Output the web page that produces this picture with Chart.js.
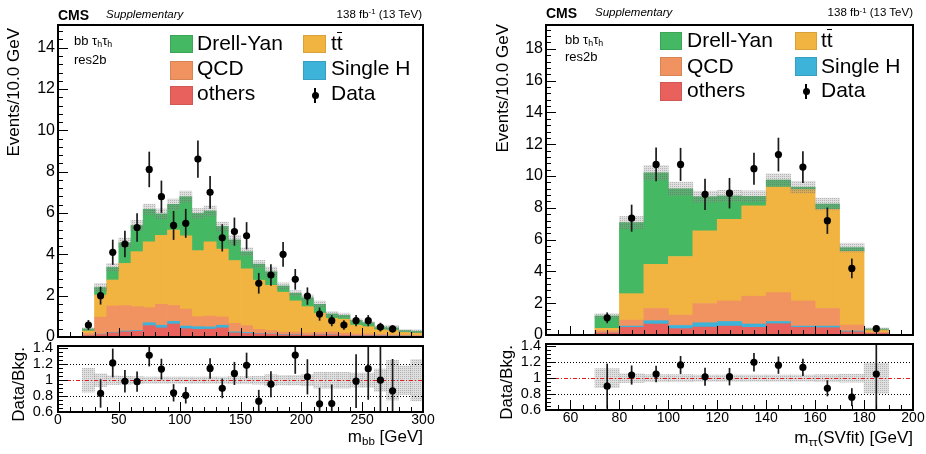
<!DOCTYPE html>
<html>
<head>
<meta charset="utf-8">
<script src="https://cdn.jsdelivr.net/npm/chart.js@4.4.1/dist/chart.umd.min.js"></script>
<style>
html,body{margin:0;padding:0;background:#fff;}
body{width:926px;height:454px;overflow:hidden;position:relative;font-family:"Liberation Sans",Arial,Helvetica,sans-serif;color:#000;}
canvas{position:absolute;left:0;top:0;}
.t{position:absolute;white-space:nowrap;line-height:1;}
.v{position:absolute;white-space:nowrap;line-height:1;writing-mode:vertical-rl;transform:rotate(180deg);}
.box{position:absolute;box-sizing:border-box;border:1px solid rgba(0,0,0,0.10);}
.sub{font-size:0.68em;position:relative;top:0.28em;}
.sup{font-size:0.68em;position:relative;top:-0.45em;}
.tb{position:relative;}
.tb i{position:absolute;left:0.5px;right:0.5px;top:0.04em;border-top:1.6px solid #000;}
.dot{position:absolute;width:7px;height:7px;border-radius:50%;background:#000;}
.bar{position:absolute;width:1.6px;background:#000;}
</style>
</head>
<body>
<canvas id="mainL" width="926" height="454"></canvas>
<canvas id="ratioL" width="926" height="454"></canvas>
<canvas id="mainR" width="926" height="454"></canvas>
<canvas id="ratioR" width="926" height="454"></canvas>

<!-- left panel texts -->
<div class="t" style="left:58px;top:7.5px;font-size:14px;font-weight:bold;">CMS</div>
<div class="t" style="left:106px;top:8.8px;font-size:11.5px;font-style:italic;">Supplementary</div>
<div class="t" style="right:504px;top:8.8px;font-size:11.5px;">138 fb<span class="sup">-1</span> (13 TeV)</div>
<div class="t" style="left:74px;top:34px;font-size:13px;">bb τ<span class="sub">h</span>τ<span class="sub">h</span></div>
<div class="t" style="left:74px;top:53px;font-size:13px;">res2b</div>

<div class="box" style="left:170px;top:35px;width:23px;height:18px;background:#45b863;"></div>
<div class="t" style="left:197px;top:32.2px;font-size:21px;">Drell-Yan</div>
<div class="box" style="left:303px;top:35px;width:23px;height:18px;background:#f2b440;"></div>
<div class="t" style="left:331px;top:32.2px;font-size:21px;">t<span class="tb">t<i></i></span></div>
<div class="box" style="left:170px;top:61px;width:23px;height:19px;background:#f09360;"></div>
<div class="t" style="left:197px;top:57.2px;font-size:21px;">QCD</div>
<div class="box" style="left:303px;top:61px;width:23px;height:19px;background:#3db3d9;"></div>
<div class="t" style="left:331px;top:57.2px;font-size:21px;">Single H</div>
<div class="box" style="left:170px;top:86px;width:23px;height:19px;background:#e9615c;"></div>
<div class="t" style="left:197px;top:82.2px;font-size:21px;">others</div>
<div class="bar" style="left:314.2px;top:88px;height:15px;"></div>
<div class="dot" style="left:311.5px;top:92px;"></div>
<div class="t" style="left:331px;top:82.2px;font-size:21px;">Data</div>

<div class="v" style="left:5px;top:28px;font-size:17px;">Events/10.0 GeV</div>
<div class="v" style="left:10px;top:347px;font-size:17px;">Data/Bkg.</div>
<div class="t" style="right:503px;top:427.6px;font-size:17px;">m<span class="sub">bb</span> [GeV]</div>

<!-- right panel texts -->
<div class="t" style="left:546px;top:5.5px;font-size:14px;font-weight:bold;">CMS</div>
<div class="t" style="left:595px;top:6.8px;font-size:11.5px;font-style:italic;">Supplementary</div>
<div class="t" style="right:13px;top:7.2px;font-size:11.5px;">138 fb<span class="sup">-1</span> (13 TeV)</div>
<div class="t" style="left:565px;top:33px;font-size:13px;">bb τ<span class="sub">h</span>τ<span class="sub">h</span></div>
<div class="t" style="left:565px;top:50px;font-size:13px;">res2b</div>

<div class="box" style="left:660px;top:32px;width:22px;height:18px;background:#45b863;"></div>
<div class="t" style="left:687px;top:29.2px;font-size:21px;">Drell-Yan</div>
<div class="box" style="left:795px;top:32px;width:22px;height:18px;background:#f2b440;"></div>
<div class="t" style="left:821px;top:29.2px;font-size:21px;">t<span class="tb">t<i></i></span></div>
<div class="box" style="left:660px;top:57px;width:22px;height:19px;background:#f09360;"></div>
<div class="t" style="left:687px;top:54.9px;font-size:21px;">QCD</div>
<div class="box" style="left:795px;top:57px;width:22px;height:19px;background:#3db3d9;"></div>
<div class="t" style="left:821px;top:54.9px;font-size:21px;">Single H</div>
<div class="box" style="left:660px;top:82px;width:22px;height:19px;background:#e9615c;"></div>
<div class="t" style="left:687px;top:78.9px;font-size:21px;">others</div>
<div class="bar" style="left:805.2px;top:84px;height:15px;"></div>
<div class="dot" style="left:802.5px;top:88px;"></div>
<div class="t" style="left:821px;top:78.9px;font-size:21px;">Data</div>

<div class="v" style="left:494px;top:24px;font-size:17px;">Events/10.0 GeV</div>
<div class="v" style="left:498px;top:345px;font-size:17px;">Data/Bkg.</div>
<div class="t" style="right:13px;top:428.6px;font-size:17px;">m<span class="sub">ττ</span>(SVfit) [GeV]</div>

<script>
// ===================== DATA: left panel (m_bb) =====================
const binsL = [5,15,25,35,45,55,65,75,85,95,105,115,125,135,145,155,165,175,185,195,205,215,225,235,245,255,265,275,285,295];
const othersL  = [0.03,0.03,0.07,0.12,0.20,0.25,0.28,0.55,0.44,0.63,0.40,0.37,0.38,0.44,0.20,0.17,0.15,0.13,0.10,0.10,0.08,0.10,0.10,0.07,0.06,0.06,0.05,0.04,0.04,0.03];
const singleHL = [0,0,0,0.02,0.02,0.04,0.04,0.14,0.13,0.13,0.13,0.13,0.11,0.13,0.05,0.05,0.02,0.02,0.02,0.02,0.01,0.01,0.01,0.01,0.01,0.01,0.01,0.01,0.01,0.01];
const qcdL     = [0,0,0.10,0.82,1.28,1.23,1.15,0.73,1.01,0.77,0.82,0.48,0.52,0.40,0.41,0.33,0.20,0.17,0.12,0.12,0.11,0.11,0.14,0.10,0.08,0.08,0.07,0.06,0.05,0.04];
const ttL      = [0,0,0.12,1.07,1.26,2.04,2.66,3.18,3.34,3.65,3.55,3.20,3.59,3.28,3.04,2.75,2.38,2.18,1.93,1.51,1.27,0.93,0.65,0.68,0.42,0.35,0.22,0.21,0.12,0.11];
const dyL      = [0,0,0.10,0.37,0.61,1.00,1.27,1.58,1.04,1.24,1.89,1.80,1.50,1.10,1.00,0.83,0.78,0.66,0.30,0.37,0.43,0.43,0.22,0.19,0.23,0.19,0.13,0.13,0.09,0.09];
const dataL    = [null,null,0.58,2.00,4.10,4.50,5.30,8.11,6.79,5.40,5.50,8.61,7.00,4.80,5.10,4.90,2.60,3.00,4.00,2.79,1.98,1.11,0.79,0.58,0.79,0.79,0.48,0.39,null,null];
const dataErrL = [null,null,0.24,0.43,0.61,0.64,0.69,0.86,0.78,0.70,0.70,0.90,0.79,0.66,0.68,0.66,0.50,0.52,0.60,0.50,0.42,0.32,0.27,0.23,0.27,0.27,0.21,0.18,null,null];
const bkgRelErrL = [0,0,0.15,0.08,0.055,0.05,0.045,0.04,0.04,0.04,0.04,0.04,0.04,0.04,0.045,0.045,0.05,0.07,0.06,0.06,0.07,0.10,0.10,0.10,0.09,0.09,0.14,0.25,0.18,0.26];
const xTicksL = [0,50,100,150,200,250,300];
const yTicksL = [0,2,4,6,8,10,12,14];

// ===================== DATA: right panel (m_tautau SVfit) =====================
const binsR = [55,65,75,85,95,105,115,125,135,145,155,165,175,185,195];
const othersR  = [0.04,0.04,0.12,0.48,0.69,0.40,0.50,0.56,0.48,0.71,0.48,0.46,0.20,0.10,0.03];
const singleHR = [0,0,0,0.08,0.21,0.20,0.27,0.29,0.21,0.14,0.08,0.10,0.05,0,0];
const qcdR     = [0,0,0.15,0.38,0.77,0.65,1.21,1.29,1.75,1.82,1.58,1.11,0.38,0.07,0];
const ttR      = [0,0,0.15,1.66,2.77,3.69,4.58,5.13,5.68,6.64,7.01,6.23,4.64,0.14,0];
const dyR      = [0,0,0.78,4.47,5.76,4.26,2.14,1.48,0.60,0.44,0.15,0.34,0.23,0.07,0];
const dataR    = [null,null,1.08,7.35,10.73,10.73,8.85,8.92,10.46,11.35,10.56,7.19,4.19,0.40,null];
const dataErrR = [null,null,0.34,0.85,1.06,1.04,0.98,0.96,1.01,1.06,1.00,0.83,0.62,0.19,null];
const bkgRelErrR = [0,0,0.12,0.055,0.045,0.045,0.04,0.04,0.04,0.04,0.04,0.045,0.05,0.19,0];
const xTicksR = [60,80,100,120,140,160,180,200];
const yTicksR = [0,2,4,6,8,10,12,14,16,18];

// ratio axis
const ratioTicks = [0.6,0.8,1,1.2,1.4];
const ratioTickLabels = ['0.6','0.8','1','1.2','1.4'];

// ===================== STYLE =====================
const FONT = "'Liberation Sans', Arial, Helvetica, sans-serif";
const COL = {dy:'#45b863', tt:'#f2b440', qcd:'#f09360', singleH:'#3db3d9', others:'#e9615c'};

function makePattern(){
  const c = document.createElement('canvas'); c.width = 2; c.height = 2;
  const g = c.getContext('2d');
  g.fillStyle = 'rgba(150,150,150,0.30)'; g.fillRect(0,0,2,2);
  g.fillStyle = 'rgba(80,80,80,0.30)'; g.fillRect(0,0,1,1);
  return g.createPattern(c,'repeat');
}

const decor = {
  id:'decor',
  beforeDatasetDraw(chart, args, o){
    const ds = chart.data.datasets[args.index];
    if(!ds.isData) return;
    const ctx = chart.ctx, a = chart.chartArea;
    const xs = chart.scales.x, ys = chart.scales[ds.yAxisID];
    ctx.save();
    ctx.beginPath(); ctx.rect(a.left, a.top, a.right-a.left, a.bottom-a.top); ctx.clip();
    (o.refLines||[]).forEach(r=>{
      const y = Math.round(ys.getPixelForValue(r.value))+0.5;
      ctx.beginPath(); ctx.setLineDash(r.dash); ctx.strokeStyle = r.color; ctx.lineWidth = r.width;
      ctx.moveTo(a.left,y); ctx.lineTo(a.right,y); ctx.stroke();
    });
    ctx.setLineDash([]);
    ctx.strokeStyle = '#1a1a1a'; ctx.lineWidth = 1.7;
    ds.data.forEach(p=>{
      const x = xs.getPixelForValue(p.x);
      ctx.beginPath(); ctx.moveTo(x, ys.getPixelForValue(p.y-p.e)); ctx.lineTo(x, ys.getPixelForValue(p.y+p.e)); ctx.stroke();
    });
    ctx.restore();
  },
  afterDraw(chart, args, o){
    const ctx = chart.ctx, a = chart.chartArea;
    const xs = chart.scales.x, ys = chart.scales.y;
    ctx.save(); ctx.strokeStyle = '#000'; ctx.lineWidth = 1;
    ctx.beginPath();
    const xt = (v,len)=>{ const x = Math.round(xs.getPixelForValue(v))+0.5; ctx.moveTo(x,a.bottom); ctx.lineTo(x,a.bottom-len); };
    const yt = (v,len)=>{ const y = Math.round(ys.getPixelForValue(v))+0.5; ctx.moveTo(a.left,y); ctx.lineTo(a.left+len,y); };
    for(let k=0; xs.min + k*o.xMinor <= xs.max+1e-9; k++) xt(xs.min + k*o.xMinor, o.xMinorLen);
    o.xMajor.forEach(v=>xt(v,o.xMajorLen));
    for(let k=0; o.yMinorStart + k*o.yMinor <= ys.max+1e-9; k++) yt(o.yMinorStart + k*o.yMinor, o.yMinorLen);
    o.yMajor.forEach(v=>yt(v,o.yMajorLen));
    ctx.stroke();
    ctx.lineWidth = 2;
    ctx.strokeRect(a.left, a.top, a.right-a.left, a.bottom-a.top);
    ctx.restore();
  }
};

function buildPanel(P){
  const procs = [
    {name:'others', vals:P.others, color:COL.others},
    {name:'Single H', vals:P.singleH, color:COL.singleH},
    {name:'QCD', vals:P.qcd, color:COL.qcd},
    {name:'tt', vals:P.tt, color:COL.tt},
    {name:'Drell-Yan', vals:P.dy, color:COL.dy}
  ];
  const total = P.bins.map((_,i)=>procs.reduce((s,pr)=>s+pr.vals[i],0));
  const pattern = makePattern();
  const common = {responsive:false, animation:false, devicePixelRatio:1, events:[]};
  const tickFont = s => ({family:FONT, size:s});

  // ---------- main panel ----------
  const mainSets = procs.map(pr=>({
    type:'bar', label:pr.name, data:P.bins.map((x,i)=>({x, y:pr.vals[i]})),
    backgroundColor:pr.color, borderWidth:0, yAxisID:'y', stack:'s', grouped:false, order:3,
    barPercentage:1, categoryPercentage:1
  }));
  mainSets.push({
    type:'bar', label:'unc', data:P.bins.map((x,i)=>P.relErr[i]>0 ? {x, y:[total[i]*(1-P.relErr[i]), total[i]*(1+P.relErr[i])]} : null).filter(Boolean),
    backgroundColor:pattern, borderWidth:0, yAxisID:'yd', stack:'s', grouped:false, order:2,
    barPercentage:1, categoryPercentage:1
  });
  mainSets.push({
    type:'scatter', label:'Data', isData:true, yAxisID:'yd', order:0, showLine:false,
    data:P.bins.map((x,i)=>P.data[i]==null ? null : {x, y:P.data[i], e:P.dataErr[i]}).filter(Boolean),
    pointRadius:3.6, pointBackgroundColor:'#000', pointBorderWidth:0
  });
  new Chart(document.getElementById(P.mainId), {
    type:'bar', data:{datasets:mainSets}, plugins:[decor],
    options:Object.assign({}, common, {
      layout:{padding:{left:P.padL, right:926-P.right, top:P.mainTop, bottom:454-P.mainBottom}},
      scales:{
        x:{type:'linear', min:P.xMin, max:P.xMax, offset:false, stacked:true, display:false,
           afterBuildTicks:ax=>{ax.ticks = P.xTicks.map(v=>({value:v}));}},
        y:{type:'linear', min:0, max:P.yMax, stacked:true, position:'left',
           grid:{display:false, drawTicks:false}, border:{display:false},
           afterBuildTicks:ax=>{ax.ticks = P.yTicks.map(v=>({value:v}));},
           afterFit:ax=>{ax.width = P.left - P.padL;},
           ticks:{autoSkip:false, padding:3, color:'#000', font:tickFont(16), callback:v=>String(v)}},
        yd:{type:'linear', min:0, max:P.yMax, display:false, stacked:false}
      },
      plugins:{legend:{display:false}, tooltip:{enabled:false},
        decor:{xMajor:P.xTicks, xMinor:P.xMinor, xMajorLen:9, xMinorLen:5,
               yMajor:P.yTicks, yMinor:0.4, yMinorStart:0, yMajorLen:10, yMinorLen:5}}
    })
  });

  // ---------- ratio panel ----------
  const ratioPts = P.bins.map((x,i)=>{
    if(P.data[i]==null) return null;
    const r = P.data[i]/total[i];
    if(r < 0.6 || r > 1.43) return null;
    return {x, y:r, e:P.dataErr[i]/total[i]};
  }).filter(Boolean);
  const ratioSets = [
    {type:'bar', label:'unc', data:P.bins.map((x,i)=>P.relErr[i]>0 ? {x, y:[1-P.relErr[i], 1+P.relErr[i]]} : null).filter(Boolean),
     backgroundColor:pattern, borderWidth:0, yAxisID:'y', grouped:false, order:2, barPercentage:1, categoryPercentage:1},
    {type:'scatter', label:'Data/Bkg', isData:true, yAxisID:'y', order:0, showLine:false, data:ratioPts,
     pointRadius:3.6, pointBackgroundColor:'#000', pointBorderWidth:0}
  ];
  new Chart(document.getElementById(P.ratioId), {
    type:'bar', data:{datasets:ratioSets}, plugins:[decor],
    options:Object.assign({}, common, {
      layout:{padding:{left:P.padL, right:926-P.right, top:P.ratioTop, bottom:0}},
      scales:{
        x:{type:'linear', min:P.xMin, max:P.xMax, offset:false,
           grid:{display:false, drawTicks:false}, border:{display:false},
           afterBuildTicks:ax=>{ax.ticks = P.xTicks.map(v=>({value:v}));},
           afterFit:ax=>{ax.height = 454 - P.ratioBottom;},
           ticks:{autoSkip:false, maxRotation:0, minRotation:0, padding:0, color:'#000', font:tickFont(14), callback:v=>String(v)}},
        y:{type:'linear', min:0.6, max:1.43, position:'left',
           grid:{display:false, drawTicks:false}, border:{display:false},
           afterBuildTicks:ax=>{ax.ticks = ratioTicks.map(v=>({value:v}));},
           afterFit:ax=>{ax.width = P.left - P.padL;},
           ticks:{autoSkip:false, padding:5, color:'#000', font:tickFont(14.5), callback:(v,i)=>ratioTickLabels[i]}}
      },
      plugins:{legend:{display:false}, tooltip:{enabled:false},
        decor:{xMajor:P.xTicks, xMinor:P.xMinor, xMajorLen:10, xMinorLen:5,
               yMajor:ratioTicks, yMinor:0.05, yMinorStart:0.6, yMajorLen:10, yMinorLen:5,
               refLines:[{value:1.2,color:'#000',dash:[1,2],width:1},{value:0.8,color:'#000',dash:[1,2],width:1},{value:1,color:'#e41a1a',dash:[4,2,1,2],width:1}]}}
    })
  });
}

buildPanel({
  mainId:'mainL', ratioId:'ratioL', bins:binsL,
  others:othersL, singleH:singleHL, qcd:qcdL, tt:ttL, dy:dyL,
  data:dataL, dataErr:dataErrL, relErr:bkgRelErrL,
  xMin:0, xMax:300, xTicks:xTicksL, xMinor:10, yMax:15.1, yTicks:yTicksL,
  padL:0, left:58, right:423, mainTop:25, mainBottom:337, ratioTop:346, ratioBottom:412
});
buildPanel({
  mainId:'mainR', ratioId:'ratioR', bins:binsR,
  others:othersR, singleH:singleHR, qcd:qcdR, tt:ttR, dy:dyR,
  data:dataR, dataErr:dataErrR, relErr:bkgRelErrR,
  xMin:50, xMax:200, xTicks:xTicksR, xMinor:5, yMax:19.5, yTicks:yTicksR,
  padL:463, left:546, right:913, mainTop:25, mainBottom:335, ratioTop:344, ratioBottom:410
});
</script>
</body>
</html>
